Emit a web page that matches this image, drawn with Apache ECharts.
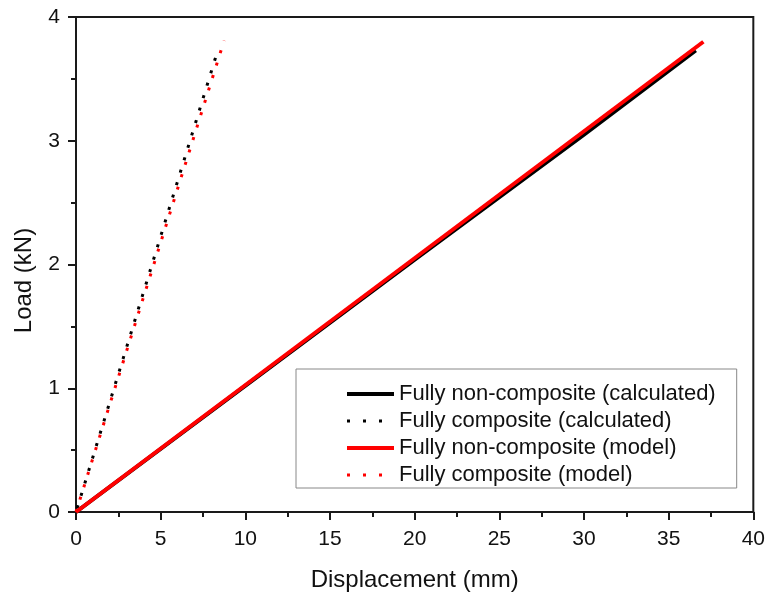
<!DOCTYPE html>
<html>
<head>
<meta charset="utf-8">
<script src="https://cdn.jsdelivr.net/npm/echarts@6/dist/echarts.min.js"></script>
<style>html,body{margin:0;padding:0;background:#fff;}#c{width:768px;height:599px;}</style>
</head>
<body>
<div id="c"></div>
<script>
// Data
var seriesNames = ['Fully non-composite (calculated)', 'Fully composite (calculated)', 'Fully non-composite (model)', 'Fully composite (model)'];
var nonCompCalcX = [0, 20, 30, 36.6];
var nonCompCalcY = [0, 2.04, 3.05, 3.73];
var compCalcX = [0, 8.35];
var compCalcY = [0, 3.72];
var nonCompModelX = [0, 37.05];
var nonCompModelY = [0, 3.80];
var compModelX = [0, 8.75];
var compModelY = [0, 3.81];
var xTicks = [0, 5, 10, 15, 20, 25, 30, 35, 40];
var yTicks = [0, 1, 2, 3, 4];

function pairs(xs, ys) { return xs.map(function (x, i) { return [x, ys[i]]; }); }

var chart = echarts.init(document.getElementById('c'), null, {renderer: 'canvas'});
var FONT = '"Liberation Sans", Arial, sans-serif';
var AX = '#1a1a1a';
var hiddenSym = {opacity: 0, color: 'transparent', borderColor: 'transparent'};
chart.setOption({
  animation: false,
  backgroundColor: '#fff',
  textStyle: {fontFamily: FONT},
  grid: {left: 76, right: 14, top: 17, bottom: 87, show: true, borderColor: AX, borderWidth: 2, backgroundColor: 'transparent'},
  legend: {
    orient: 'vertical', left: 296, top: 369,
    padding: [13, 21, 1, 49],
    itemWidth: 47, itemHeight: 14, itemGap: 3, itemTextGap: 8,
    borderColor: '#888', borderWidth: 1,
    itemStyle: hiddenSym,
    textStyle: {fontSize: 22, color: '#111', fontFamily: FONT, lineHeight: 24},
    data: [
      {name: seriesNames[0], itemStyle: hiddenSym, lineStyle: {color: '#000', width: 4}},
      {name: seriesNames[1], itemStyle: hiddenSym, lineStyle: {color: '#000', width: 3, type: [3, 13], dashOffset: 0}},
      {name: seriesNames[2], itemStyle: hiddenSym, lineStyle: {color: '#ff0000', width: 4}},
      {name: seriesNames[3], itemStyle: hiddenSym, lineStyle: {color: '#ff0000', width: 3, type: [3, 13], dashOffset: 0}}
    ]
  },
  xAxis: {
    type: 'value', min: xTicks[0], max: xTicks[xTicks.length - 1], interval: 5,
    name: 'Displacement (mm)', nameLocation: 'middle', nameGap: 56,
    nameTextStyle: {fontSize: 24, color: '#111', fontFamily: FONT},
    axisLine: {show: true, lineStyle: {color: AX, width: 2}},
    axisTick: {show: true, length: 8, lineStyle: {color: AX, width: 2}},
    minorTick: {show: true, splitNumber: 2, length: 5, lineStyle: {color: AX, width: 2}},
    axisLabel: {fontSize: 21, color: '#111', margin: 17, fontFamily: FONT},
    splitLine: {show: false}
  },
  yAxis: {
    type: 'value', min: yTicks[0], max: yTicks[yTicks.length - 1], interval: 1,
    name: 'Load (kN)', nameLocation: 'middle', nameGap: 40,
    nameTextStyle: {fontSize: 24, color: '#111', fontFamily: FONT, padding: [0, 32, 0, 0]},
    axisLine: {show: true, lineStyle: {color: AX, width: 2}},
    axisTick: {show: true, length: 8, lineStyle: {color: AX, width: 2}},
    minorTick: {show: true, splitNumber: 2, length: 5, lineStyle: {color: AX, width: 2}},
    axisLabel: {fontSize: 21, color: '#111', margin: 16, fontFamily: FONT},
    splitLine: {show: false}
  },
  series: [
    {name: seriesNames[0], type: 'line', data: pairs(nonCompCalcX, nonCompCalcY), showSymbol: false, symbol: 'none',
     lineStyle: {color: '#000', width: 4}, itemStyle: {color: '#000'}},
    {name: seriesNames[1], type: 'line', data: pairs(compCalcX, compCalcY), showSymbol: false, symbol: 'none',
     lineStyle: {color: '#000', width: 3, type: [3, 10], dashOffset: 9}, itemStyle: {color: '#000'}},
    {name: seriesNames[2], type: 'line', data: pairs(nonCompModelX, nonCompModelY), showSymbol: false, symbol: 'none',
     lineStyle: {color: '#ff0000', width: 4}, itemStyle: {color: '#ff0000'}},
    {name: seriesNames[3], type: 'line', data: pairs(compModelX, compModelY), showSymbol: false, symbol: 'none',
     lineStyle: {color: '#ff0000', width: 3, type: [3, 10], dashOffset: 0}, itemStyle: {color: '#ff0000'}}
  ]
});
</script>
</body>
</html>
